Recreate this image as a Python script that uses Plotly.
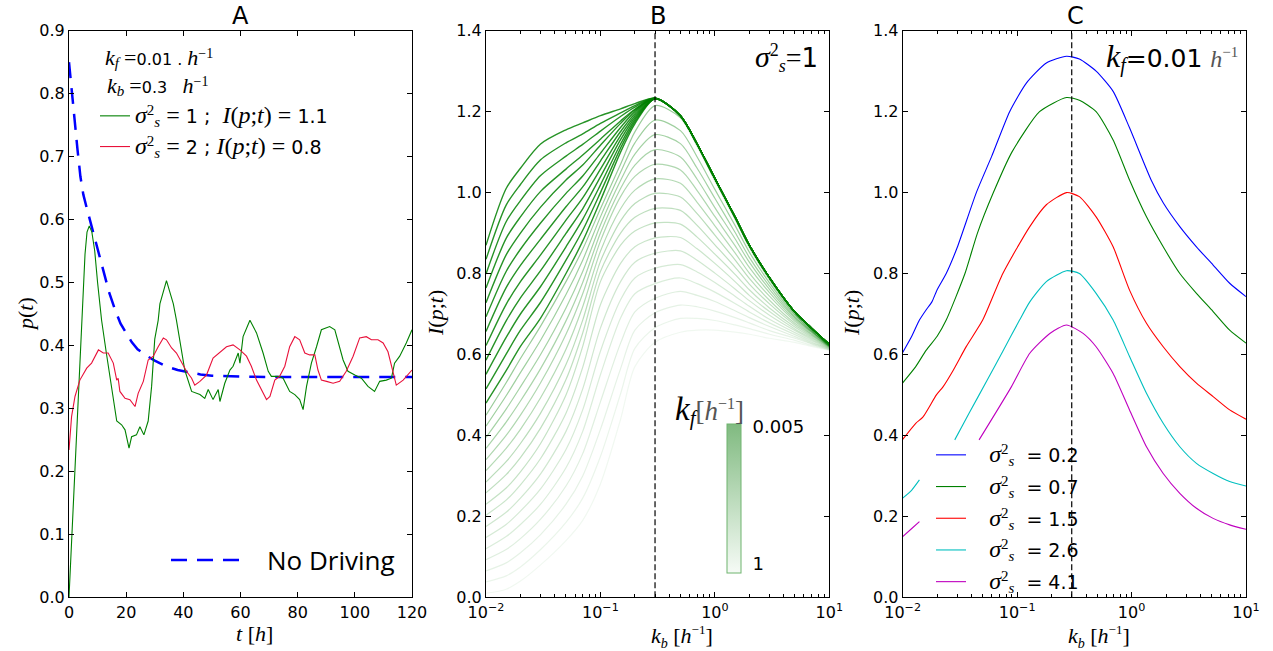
import plotly.graph_objects as go

# ---------------- Panel A data ----------------
T_GREEN = [0, 1, 2, 3, 4, 5, 5.6, 6.3, 7.1, 8, 9, 10, 11.4, 13, 15, 16.7, 18.4, 19.6, 21, 21.9,
           23.6, 24.8, 26.2, 27.7, 28.9, 30, 31.2, 31.8, 34.1, 36.5, 37.6, 40.5, 42.9, 45.8, 47.5,
           48.7, 50.4, 52.2, 52.8, 54.5, 56.3, 57.4, 59.2, 59.8, 60.9, 63.3, 65.6, 67.9, 69.7, 70.8,
           73.2, 74.9, 77.2, 79.0, 80.7, 81.9, 83.1, 84.8, 86.6, 88.3, 91.2, 93.0, 95.9, 97.6, 100.0,
           102.3, 104.6, 106.9, 108.7, 111.0, 112.8, 113.9, 115.7, 118.0, 120.0]
P_GREEN = [0.0, 0.10, 0.20, 0.30, 0.40, 0.49, 0.545, 0.58, 0.59, 0.58, 0.55, 0.50, 0.44, 0.39, 0.33,
           0.28, 0.274, 0.266, 0.237, 0.255, 0.258, 0.271, 0.258, 0.28, 0.335, 0.41, 0.44, 0.466,
           0.503, 0.466, 0.44, 0.361, 0.327, 0.322, 0.316, 0.33, 0.314, 0.33, 0.311, 0.34, 0.361,
           0.367, 0.388, 0.372, 0.414, 0.44, 0.42, 0.388, 0.359, 0.351, 0.351, 0.348, 0.327, 0.322,
           0.314, 0.298, 0.335, 0.372, 0.398, 0.425, 0.43, 0.425, 0.377, 0.359, 0.353, 0.348, 0.335,
           0.327, 0.343, 0.345, 0.348, 0.372, 0.383, 0.404, 0.425]

T_RED = [0, 0.9, 2.1, 3.8, 6.2, 7.9, 10.3, 12, 13.7, 15.5, 16.7, 17.2, 17.8, 19.6, 21.3, 23.1, 24.2,
         26, 27.7, 29.5, 31.2, 33, 34.1, 35.9, 37.6, 39.4, 41.1, 42.9, 44, 45.8, 48.1, 50.4, 52.8,
         55.1, 57.4, 59.8, 62.1, 63.8, 65.6, 67.3, 69.1, 70.3, 72, 73.7, 75.5, 77.2, 79, 80.7, 82.5,
         84.2, 86, 87.1, 88.3, 90.1, 92.4, 94.7, 97, 99.4, 101.7, 104, 105.8, 108.1, 109.9, 111.6,
         112.8, 114.5, 116.9, 118.6, 120]
P_RED = [0.234, 0.287, 0.319, 0.345, 0.364, 0.372, 0.393, 0.388, 0.388, 0.372, 0.345, 0.348, 0.327,
         0.316, 0.314, 0.303, 0.324, 0.343, 0.377, 0.383, 0.398, 0.412, 0.409, 0.396, 0.388, 0.372,
         0.359, 0.348, 0.337, 0.343, 0.353, 0.38, 0.39, 0.398, 0.401, 0.393, 0.383, 0.367, 0.345,
         0.33, 0.314, 0.319, 0.345, 0.351, 0.367, 0.398, 0.414, 0.409, 0.388, 0.385, 0.385, 0.361,
         0.345, 0.343, 0.34, 0.343, 0.359, 0.383, 0.412, 0.414, 0.409, 0.409, 0.404, 0.39, 0.367,
         0.337, 0.345, 0.353, 0.361]

T_NODRIVE = [0, 1, 2, 3, 4, 5, 6, 7, 8, 10, 12, 14, 16, 18, 20, 22, 24, 27, 30, 34, 38, 42, 46, 50,
             55, 60, 70, 80, 90, 100, 110, 120]
P_NODRIVE = [0.85, 0.80, 0.755, 0.71, 0.668, 0.64, 0.622, 0.605, 0.587, 0.552, 0.518, 0.485, 0.458,
             0.435, 0.42, 0.405, 0.394, 0.384, 0.376, 0.367, 0.361, 0.357, 0.354, 0.352, 0.351,
             0.3505, 0.35, 0.35, 0.35, 0.35, 0.35, 0.35]

# ---------------- Panel B data ----------------
KB_LEFT = [0.01, 0.015, 0.02, 0.03, 0.05, 0.07, 0.1, 0.15, 0.2, 0.3]
KB_RIGHT = [0.5, 0.7, 1, 1.5, 2, 3, 5, 7, 10]

# small k_f (dark curves): rising part up to k_b = 0.3
B_DARK_LEFT = [
    [0.870, 1.010, 1.060, 1.120, 1.155, 1.172, 1.190, 1.207, 1.220, 1.233],
    [0.835, 0.969, 1.020, 1.081, 1.123, 1.145, 1.171, 1.197, 1.215, 1.233],
    [0.799, 0.928, 0.980, 1.042, 1.090, 1.119, 1.152, 1.188, 1.211, 1.233],
    [0.764, 0.887, 0.940, 1.003, 1.058, 1.093, 1.132, 1.177, 1.206, 1.233],
    [0.728, 0.846, 0.900, 0.964, 1.031, 1.068, 1.117, 1.171, 1.204, 1.233],
    [0.693, 0.805, 0.860, 0.925, 0.998, 1.041, 1.097, 1.161, 1.200, 1.233],
    [0.657, 0.765, 0.820, 0.885, 0.965, 1.014, 1.078, 1.151, 1.195, 1.233],
    [0.622, 0.724, 0.780, 0.846, 0.932, 0.987, 1.058, 1.141, 1.190, 1.232],
    [0.586, 0.683, 0.740, 0.807, 0.899, 0.960, 1.039, 1.131, 1.185, 1.232],
    [0.551, 0.642, 0.700, 0.768, 0.866, 0.934, 1.019, 1.120, 1.180, 1.232],
    [0.515, 0.601, 0.660, 0.729, 0.833, 0.907, 1.000, 1.110, 1.175, 1.232],
    [0.480, 0.560, 0.620, 0.690, 0.800, 0.880, 0.980, 1.100, 1.170, 1.232],
]
B_DARK_RIGHT = [1.19, 1.12, 1.035, 0.94, 0.87, 0.79, 0.705, 0.665, 0.625]

# larger k_f (faint curves)
B_FAINT_LEFT = [
    [0.450, 0.530, 0.590, 0.670, 0.780, 0.860, 0.960, 1.070, 1.150, 1.215],
    [0.423, 0.498, 0.555, 0.635, 0.748, 0.833, 0.940, 1.050, 1.123, 1.179],
    [0.395, 0.465, 0.520, 0.600, 0.715, 0.805, 0.920, 1.030, 1.095, 1.143],
    [0.368, 0.433, 0.485, 0.565, 0.683, 0.778, 0.900, 1.010, 1.068, 1.106],
    [0.340, 0.400, 0.450, 0.530, 0.650, 0.750, 0.880, 0.990, 1.040, 1.070],
    [0.313, 0.368, 0.415, 0.493, 0.613, 0.718, 0.855, 0.960, 1.006, 1.034],
    [0.285, 0.335, 0.380, 0.455, 0.575, 0.685, 0.830, 0.930, 0.973, 0.998],
    [0.258, 0.303, 0.345, 0.418, 0.538, 0.653, 0.805, 0.900, 0.939, 0.961],
    [0.230, 0.270, 0.310, 0.380, 0.500, 0.620, 0.780, 0.870, 0.905, 0.925],
    [0.203, 0.240, 0.278, 0.343, 0.455, 0.568, 0.723, 0.825, 0.866, 0.888],
    [0.175, 0.210, 0.245, 0.305, 0.410, 0.515, 0.665, 0.780, 0.828, 0.850],
    [0.148, 0.180, 0.213, 0.268, 0.365, 0.463, 0.608, 0.735, 0.789, 0.813],
    [0.120, 0.150, 0.180, 0.230, 0.320, 0.410, 0.550, 0.690, 0.750, 0.775],
    [0.093, 0.118, 0.145, 0.193, 0.275, 0.355, 0.483, 0.628, 0.705, 0.739],
    [0.065, 0.085, 0.110, 0.155, 0.230, 0.300, 0.415, 0.565, 0.660, 0.703],
    [0.038, 0.053, 0.075, 0.118, 0.185, 0.245, 0.348, 0.503, 0.615, 0.666],
    [0.010, 0.020, 0.040, 0.080, 0.140, 0.190, 0.280, 0.440, 0.570, 0.630],
]
B_FAINT_RIGHT = [
    [1.185, 1.115, 1.030, 0.935, 0.865, 0.785, 0.700, 0.660, 0.622],
    [1.153, 1.088, 1.008, 0.919, 0.853, 0.777, 0.697, 0.659, 0.622],
    [1.121, 1.060, 0.986, 0.902, 0.840, 0.769, 0.693, 0.657, 0.622],
    [1.088, 1.033, 0.963, 0.886, 0.828, 0.761, 0.690, 0.656, 0.621],
    [1.056, 1.005, 0.941, 0.869, 0.815, 0.753, 0.686, 0.654, 0.621],
    [1.023, 0.976, 0.918, 0.851, 0.801, 0.744, 0.682, 0.651, 0.620],
    [0.989, 0.948, 0.895, 0.834, 0.788, 0.734, 0.677, 0.649, 0.620],
    [0.956, 0.919, 0.871, 0.816, 0.774, 0.725, 0.673, 0.646, 0.619],
    [0.922, 0.890, 0.848, 0.798, 0.760, 0.715, 0.668, 0.643, 0.618],
    [0.889, 0.861, 0.825, 0.780, 0.746, 0.706, 0.663, 0.640, 0.617],
    [0.856, 0.833, 0.801, 0.762, 0.733, 0.697, 0.659, 0.637, 0.616],
    [0.822, 0.804, 0.778, 0.744, 0.719, 0.687, 0.654, 0.634, 0.615],
    [0.789, 0.775, 0.754, 0.726, 0.705, 0.678, 0.649, 0.631, 0.614],
    [0.756, 0.746, 0.731, 0.708, 0.691, 0.669, 0.644, 0.628, 0.613],
    [0.722, 0.718, 0.707, 0.691, 0.678, 0.659, 0.640, 0.626, 0.612],
    [0.689, 0.689, 0.684, 0.673, 0.664, 0.650, 0.635, 0.623, 0.611],
    [0.655, 0.660, 0.660, 0.655, 0.650, 0.640, 0.630, 0.620, 0.610],
]
KF_TICKS = ["0.005", "1"]
KB_OPT = 0.3

# ---------------- Panel C data ----------------
C_LABELS = ["0.2", "0.7", "1.5", "2.6", "4.1"]
C_KB_BLUE = [0.01, 0.012, 0.014, 0.016, 0.018, 0.02, 0.024, 0.03, 0.044, 0.06, 0.086, 0.12, 0.18,
             0.27, 0.35, 0.49, 0.69, 0.96, 1.49, 1.89, 2.64, 3.69, 5.16, 7.2, 10]
C_I_BLUE = [0.605, 0.645, 0.685, 0.71, 0.73, 0.76, 0.80, 0.865, 1.0, 1.09, 1.2, 1.27, 1.32, 1.337,
            1.33, 1.30, 1.25, 1.16, 1.03, 0.975, 0.916, 0.866, 0.821, 0.776, 0.743]
C_KB_GREEN = [0.01, 0.013, 0.016, 0.02, 0.024, 0.035, 0.045, 0.062, 0.09, 0.157, 0.27, 0.35, 0.49,
              0.69, 0.96, 1.35, 1.89, 2.64, 3.69, 5.16, 7.2, 10]
C_I_GREEN = [0.53, 0.57, 0.61, 0.645, 0.685, 0.80, 0.90, 1.0, 1.10, 1.2, 1.235, 1.228, 1.20, 1.13,
             1.031, 0.94, 0.866, 0.80, 0.751, 0.706, 0.66, 0.628]
C_KB_RED = [0.01, 0.013, 0.015, 0.0197, 0.0225, 0.0275, 0.036, 0.05, 0.075, 0.129, 0.18, 0.27, 0.35,
            0.49, 0.69, 0.96, 1.35, 1.89, 2.64, 3.69, 5.16, 7.2, 10]
C_I_RED = [0.39, 0.43, 0.445, 0.50, 0.52, 0.56, 0.62, 0.685, 0.80, 0.916, 0.97, 1.0, 0.99, 0.94,
           0.866, 0.759, 0.677, 0.619, 0.57, 0.529, 0.496, 0.463, 0.44]
C_KB_CYAN = [0.01, 0.012, 0.014, None, 0.0285, 0.038, 0.0548, 0.075, 0.105, 0.129, 0.18, 0.27, 0.35,
             0.49, 0.69, 0.96, 1.35, 1.89, 2.64, 3.69, 5.16, 7.2, 10]
C_I_CYAN = [0.245, 0.265, 0.29, None, 0.389, 0.4545, 0.537, 0.608, 0.685, 0.73, 0.78, 0.807, 0.80,
            0.751, 0.685, 0.595, 0.504, 0.43, 0.372, 0.331, 0.306, 0.286, 0.275]
C_KB_MAG = [0.01, 0.012, 0.014, None, 0.0465, 0.089, 0.129, 0.193, 0.27, 0.377, 0.49, 0.69, 0.96,
            1.35, 1.89, 2.64, 3.69, 5.16, 7.2, 10]
C_I_MAG = [0.15, 0.17, 0.187, None, 0.389, 0.52, 0.603, 0.652, 0.673, 0.652, 0.619, 0.553, 0.463,
           0.372, 0.306, 0.257, 0.22, 0.195, 0.179, 0.168]

# ---------------- helpers ----------------
SERIF = "Liberation Serif"
SANS = "DejaVu Sans"
W, H = 1273, 651
NB = "\u00a0"


def m(s, size=None, color=None):
    st = f"font-family:{SERIF}"
    if size:
        st += f";font-size:{size}px"
    if color:
        st += f";fill:{color}"
    return f'<span style="{st}"><i>{s}</i></span>'


def r(s, size=None, color=None):
    st = f"font-family:{SERIF}"
    if size:
        st += f";font-size:{size}px"
    if color:
        st += f";fill:{color}"
    return f'<span style="{st}">{s}</span>'


def px(x):
    return x / W


def py(y):
    return 1 - y / H


fig = go.Figure()

# Panel A
fig.add_trace(go.Scatter(x=T_NODRIVE, y=P_NODRIVE, mode="lines", xaxis="x", yaxis="y",
                         line=dict(color="#0000ff", width=2.5, dash="16px,10px"), showlegend=False))
sig = m("σ", 24) + "<sup>" + r("2", 15) + "</sup><sub>" + m("s", 15) + "</sub>"
ipt = m("I", 24) + r("(", 24) + m("p", 24) + r(";", 24) + m("t", 24) + r(")", 24)
fig.add_trace(go.Scatter(x=T_GREEN, y=P_GREEN, mode="lines", xaxis="x", yaxis="y",
                         line=dict(color="#008000", width=1.1), legend="legend", legendgroup="g1",
                         name=sig + NB + r("=", 24) + NB + "1" + NB + ";" + NB * 2 + ipt + NB
                         + r("=", 24) + NB + "1.1"))
fig.add_trace(go.Scatter(x=T_RED, y=P_RED, mode="lines", xaxis="x", yaxis="y",
                         line=dict(color="#e8113a", width=1.1), legend="legend", legendgroup="g2",
                         name=sig + NB + r("=", 24) + NB + "2" + NB + ";" + NB + ipt + NB
                         + r("=", 24) + NB + "0.8"))

# Panel B
n_faint = len(B_FAINT_LEFT)
for j in range(n_faint - 1, -1, -1):
    a = 0.40 - j * (0.34 / (n_faint - 1))
    fig.add_trace(go.Scatter(x=KB_LEFT + KB_RIGHT, y=B_FAINT_LEFT[j] + B_FAINT_RIGHT[j],
                             mode="lines", xaxis="x2", yaxis="y2", showlegend=False,
                             line=dict(color=f"rgba(0,128,0,{a:.3f})", width=1.2, shape="spline",
                                       smoothing=0.8)))
for k in range(len(B_DARK_LEFT) - 1, -1, -1):
    fig.add_trace(go.Scatter(x=KB_LEFT + KB_RIGHT, y=B_DARK_LEFT[k] + B_DARK_RIGHT,
                             mode="lines", xaxis="x2", yaxis="y2", showlegend=False,
                             line=dict(color="rgba(0,128,0,0.85)", width=1.4, shape="spline",
                                       smoothing=0.8)))
fig.add_trace(go.Scatter(x=[KB_OPT, KB_OPT], y=[0, 1.4], mode="lines", xaxis="x2", yaxis="y2",
                         showlegend=False, line=dict(color="black", width=1.2, dash="6px,3px")))
# colour bar for k_f
fig.add_trace(go.Scatter(x=[None, None], y=[None, None], mode="markers", xaxis="x2", yaxis="y2",
                         showlegend=False,
                         marker=dict(color=[0, 1], cmin=0, cmax=1,
                                     colorscale=[[0, "rgb(246,251,246)"], [1, "rgb(128,186,128)"]],
                                     showscale=True,
                                     colorbar=dict(x=px(727), xanchor="left", xpad=0,
                                                   y=py(498.5), yanchor="middle", ypad=0,
                                                   len=149 / H, lenmode="fraction", thickness=14,
                                                   outlinecolor="rgb(110,180,110)", outlinewidth=1,
                                                   tickmode="array", tickvals=[0.98, 0.06],
                                                   ticktext=KF_TICKS, ticks="outside", ticklen=8,
                                                   tickcolor="rgba(0,0,0,0)",
                                                   tickfont=dict(family=SANS, size=18, color="black")))))

# Panel C
C_SERIES = [(C_KB_BLUE, C_I_BLUE, "#0000ff"), (C_KB_GREEN, C_I_GREEN, "#008000"),
            (C_KB_RED, C_I_RED, "#ff0000"), (C_KB_CYAN, C_I_CYAN, "#00bfbf"),
            (C_KB_MAG, C_I_MAG, "#bf00bf")]
sigC = m("σ", 24) + "<sup>" + r("2", 15) + "</sup><sub>" + m("s", 15) + "</sub>"
for i, ((xs, ys, col), lab) in enumerate(zip(C_SERIES, C_LABELS)):
    fig.add_trace(go.Scatter(x=xs, y=ys, mode="lines", xaxis="x3", yaxis="y3", legend="legend3",
                             legendgroup=f"c{i}",
                             line=dict(color=col, width=1.1, shape="spline", smoothing=0.6),
                             connectgaps=False, name=NB * 3 + sigC + NB * 2 + "=" + NB + lab))
fig.add_trace(go.Scatter(x=[KB_OPT, KB_OPT], y=[0, 1.4], mode="lines", xaxis="x3", yaxis="y3",
                         showlegend=False, line=dict(color="black", width=1.2, dash="6px,3px")))

# ---------------- axes ----------------
tickfont = dict(family=SANS, size=16, color="black")
common = dict(showline=True, linecolor="black", linewidth=1, mirror="allticks", ticks="inside",
              ticklen=5, tickwidth=1, tickcolor="black", showgrid=False, zeroline=False,
              tickfont=tickfont)
ydom = [py(597.3), py(30.7)]
log_vals = [0.01, 0.1, 1, 10]
log_text = ["10<sup>−2</sup>", "10<sup>−1</sup>", "10<sup>0</sup>", "10<sup>1</sup>"]
minor_vals = [b * d for d in (0.01, 0.1, 1) for b in range(2, 10)]
logaxis = dict(type="log", range=[-2, 1], tickmode="array", tickvals=log_vals, ticktext=log_text,
               minor=dict(ticks="inside", ticklen=3, tickcolor="black", tickmode="array",
                          tickvals=minor_vals, showgrid=False), **common)

fig.update_layout(
    width=W, height=H, margin=dict(l=0, r=0, t=0, b=0, pad=0, autoexpand=False),
    paper_bgcolor="white", plot_bgcolor="white",
    xaxis=dict(domain=[px(69), px(412)], range=[0, 120], dtick=20, anchor="y", **common),
    yaxis=dict(domain=ydom, range=[0, 0.9], dtick=0.1, tickformat=".1f", anchor="x", **common),
    xaxis2=dict(domain=[px(486), px(829.3)], anchor="y2", **logaxis),
    yaxis2=dict(domain=ydom, range=[0, 1.4], dtick=0.2, tickformat=".1f", anchor="x2", **common),
    xaxis3=dict(domain=[px(902.7), px(1246)], anchor="y3", **logaxis),
    yaxis3=dict(domain=ydom, range=[0, 1.4], dtick=0.2, tickformat=".1f", anchor="x3", **common),
    legend=dict(x=px(95), y=py(97), xanchor="left", yanchor="top", bgcolor="rgba(0,0,0,0)",
                font=dict(family=SANS, size=19, color="black"), borderwidth=0, tracegroupgap=3),
    legend3=dict(x=px(931), y=py(436), xanchor="left", yanchor="top", bgcolor="rgba(0,0,0,0)",
                 font=dict(family=SANS, size=19, color="black"), borderwidth=0, tracegroupgap=4),
)

ann = []


def add(text, x, y, size=16, xanchor="center", angle=0, family=SANS, color="black"):
    ann.append(dict(text=text, x=px(x), y=py(y), xref="paper", yref="paper", showarrow=False,
                    xanchor=xanchor, yanchor="middle", textangle=angle,
                    font=dict(family=family, size=size, color=color)))


add("A", 240.5, 16, 24)
add("B", 658, 16, 24)
add("C", 1075, 16, 24)
add(m("t") + NB + r("[") + m("h") + r("]"), 255, 633, 22, family=SERIF)
kb_title = (m("k") + "<sub>" + m("b", 14) + "</sub>" + NB + r("[") + m("h") + "<sup>" + r("−1", 13)
            + "</sup>" + r("]"))
add(kb_title, 682, 636, 22, family=SERIF)
add(kb_title, 1099, 636, 22, family=SERIF)
add(m("p") + r("(") + m("t") + r(")"), 25, 314, 22, angle=-90, family=SERIF)
add(m("I") + r("(") + m("p") + r(";") + m("t") + r(")"), 436, 313, 22, angle=-90, family=SERIF)
add(m("I") + r("(") + m("p") + r(";") + m("t") + r(")"), 852, 313, 22, angle=-90, family=SERIF)
add(m("k", 22) + "<sub>" + m("f", 15) + "</sub>" + NB + r("=", 22) + "0.01" + NB + "." + NB
    + m("h", 22) + "<sup>" + r("−1", 14) + "</sup>", 103, 58, 16, xanchor="left")
add(m("k", 22) + "<sub>" + m("b", 15) + "</sub>" + NB + r("=", 22) + "0.3" + NB * 3
    + m("h", 22) + "<sup>" + r("−1", 14) + "</sup>", 105, 86, 16, xanchor="left")
add("No Driving", 265, 560, 26, xanchor="left", family="Open Sans")
add(m("σ", 30) + "<sup>" + r("2", 18) + "</sup><sub>" + m("s", 18) + "</sub>" + r("=", 28) + "1",
    820, 58, 26, xanchor="right")
add(m("k", 32) + "<sub>" + m("f", 20) + "</sub>" + "=0.01" + NB + m("h", 24, "#555") + "<sup>"
    + r("−1", 15, "#555") + "</sup>", 1240, 58, 25, xanchor="right")
add(m("k", 33) + "<sub>" + m("f", 21) + "</sub>" + r("[", 27, "#555") + m("h", 27, "#555") + "<sup>"
    + r("−1", 16, "#555") + "</sup>" + r("]", 27, "#555"), 709, 410, 26)

fig.update_layout(annotations=ann)
fig.add_shape(type="line", xref="paper", yref="paper", x0=px(171), x1=px(241), y0=py(560), y1=py(560),
              line=dict(color="#0000ff", width=2.5, dash="16px,10px"))

fig.write_html("out.html", config={"displayModeBar": False},
               post_script="document.body.style.margin='0';")
